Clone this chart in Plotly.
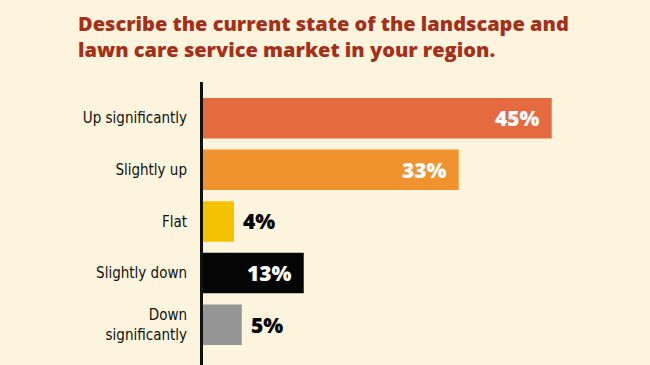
import plotly.graph_objects as go

categories = ["Up significantly", "Slightly up", "Flat", "Slightly down", "Down<br>significantly"]
values = [45, 33, 4, 13, 5]
labels = ["45%", "33%", "4%", "13%", "5%"]
colors = ["#E66A40", "#F0922E", "#F4C300", "#050505", "#959595"]
inside = [True, True, False, True, False]

title_text = "Describe the current state of the landscape and<br>lawn care service market in your region."

BG = "#FCF4DC"
L, R, T, B = 203, 51, 82, 0
W, H = 650, 365
PW, PH = W - L - R, H - T - B

fig = go.Figure()
fig.add_trace(go.Bar(
    x=values, y=list(range(len(categories))), orientation="h",
    marker=dict(color=colors, line=dict(width=0)),
    width=0.785, hoverinfo="skip",
))

for i, (v, lab, ins) in enumerate(zip(values, labels, inside)):
    fig.add_annotation(
        x=v, y=i, xref="x", yref="y", text=lab, showarrow=False,
        xanchor="right" if ins else "left",
        xshift=-10 if ins else 7,
        font=dict(family="Open Sans, sans-serif", size=21,
                  color="white" if ins else "black", weight=800),
    )

fig.add_annotation(
    text=title_text, showarrow=False, align="left",
    xref="paper", yref="paper",
    x=(76 - L) / PW, xanchor="left",
    y=1 + (T - 8) / PH, yanchor="top",
    font=dict(family="Open Sans, sans-serif", size=20, color="#A5301A", weight=800),
)

fig.update_layout(
    width=W, height=H,
    paper_bgcolor=BG, plot_bgcolor=BG,
    margin=dict(l=L, r=R, t=T, b=B),
    showlegend=False,
    xaxis=dict(range=[0, 51.1], visible=False, fixedrange=True),
    yaxis=dict(
        range=[4.78, -0.7], tickvals=list(range(len(categories))), ticktext=categories,
        showline=True, linecolor="#111111", linewidth=3, showgrid=False, zeroline=False,
        ticks="", ticklabelstandoff=10,
        tickfont=dict(family="DejaVu Sans Condensed, Liberation Sans Narrow, sans-serif", size=15, color="#111111"),
        fixedrange=True,
    ),
)

fig.write_html("out.html", config={"displayModeBar": False, "staticPlot": True},
               post_script="document.body.style.margin='0';document.body.style.background='%s';" % BG)
